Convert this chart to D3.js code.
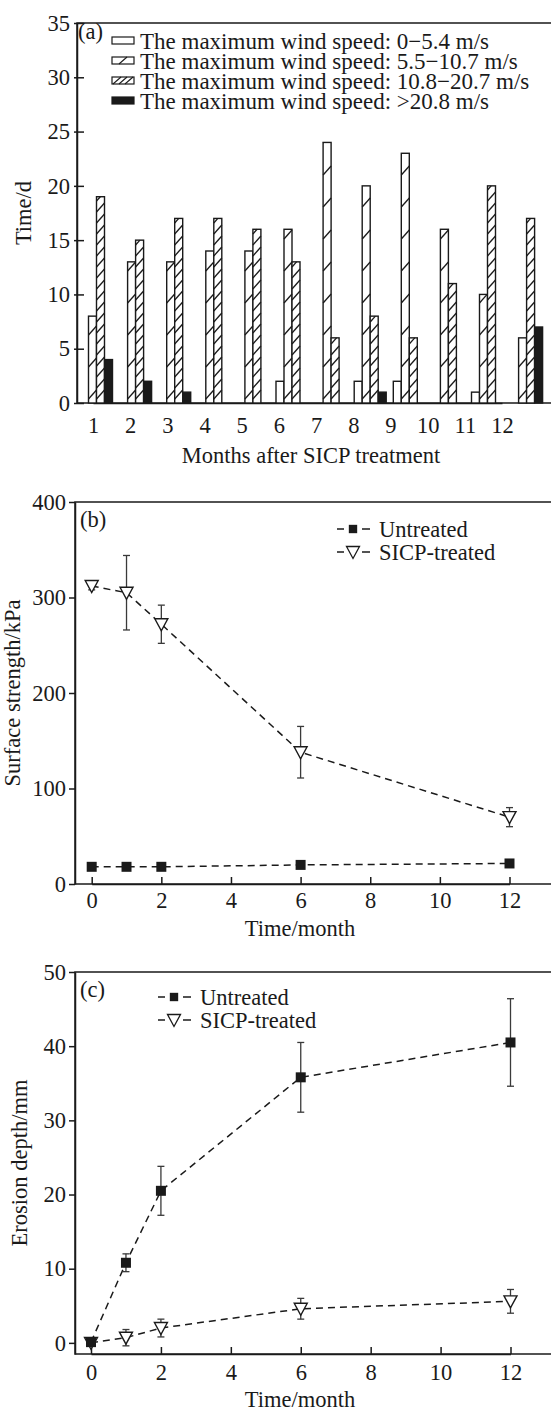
<!DOCTYPE html>
<html>
<head>
<meta charset="utf-8">
<script src="https://cdn.jsdelivr.net/npm/d3@7"></script>
<style>
  body { margin: 0; background: #fff; }
  svg text { font-family: "Liberation Serif", "Times New Roman", serif; fill: #1a1a1a; }
</style>
</head>
<body>
<svg id="chart" width="551" height="1414"></svg>
<script>
// panel (a): days per month in each wind class
const months = [1, 2, 3, 4, 5, 6, 7, 8, 9, 10, 11, 12];
const calmDays = [0, 0, 0, 0, 0, 2, 0, 2, 2, 0, 1, 0];
const lightDays = [8, 13, 13, 14, 14, 16, 24, 20, 23, 16, 10, 6];
const strongDays = [19, 15, 17, 17, 16, 13, 6, 8, 6, 11, 20, 17];
const galeDays = [4, 2, 1, 0, 0, 0, 0, 1, 0, 0, 0, 7];
const windLabels = [
  "The maximum wind speed: 0\u22125.4 m/s",
  "The maximum wind speed: 5.5\u221210.7 m/s",
  "The maximum wind speed: 10.8\u221220.7 m/s",
  "The maximum wind speed: >20.8 m/s",
];
const dayTicks = [0, 5, 10, 15, 20, 25, 30, 35];

// panels (b) and (c)
const times = [0, 1, 2, 6, 12];
const monthTicks = [0, 2, 4, 6, 8, 10, 12];
const strengthUntreated = [18, 18, 18, 20, 21.5];
const strengthUntreatedErr = [3, 2, 2, 2, 2];
const strengthTreated = [312, 305, 272, 138, 70];
const strengthTreatedErr = [4, 39, 20, 27, 10];
const strengthTicks = [0, 100, 200, 300, 400];
const erosionUntreated = [0.1, 10.8, 20.5, 35.8, 40.5];
const erosionUntreatedErr = [0.5, 1.2, 3.3, 4.7, 5.9];
const erosionTreated = [0, 0.7, 2.0, 4.6, 5.6];
const erosionTreatedErr = [0.3, 1.1, 1.2, 1.4, 1.6];
const erosionTicks = [0, 10, 20, 30, 40, 50];
const seriesNames = ["Untreated", "SICP-treated"];

const svg = d3.select("#chart");
const ink = "#1a1a1a";
const fontSize = 22.5;

//---------------- panel (a) ----------------
const aLeft = 77, aRight = 553, aTop = 23, aBottom = 403;
const yA = d3.scaleLinear().domain([0, 35]).range([aBottom, aTop]);
const xGroup = d3.scaleLinear().domain([1, 12]).range([80.5, 510.6]);
const xSub = d3.scaleBand().domain([0, 1, 2, 3]).range([0, 32]);
const xLabA = d3.scaleLinear().domain([1, 12]).range([93, 502]);

const gA = svg.append("g");
gA.append("rect")
  .attr("x", aLeft).attr("y", aTop)
  .attr("width", aRight - aLeft).attr("height", aBottom - aTop)
  .attr("fill", "none").attr("stroke", ink).attr("stroke-width", 1.5);

// y ticks of (a) cross the axis line
gA.append("g")
  .attr("transform", `translate(${aLeft},0)`)
  .call(d3.axisLeft(yA).tickValues(dayTicks).tickSizeInner(3).tickSizeOuter(0).tickPadding(4))
  .call((g) => g.selectAll(".tick line").attr("x1", 7));
gA.append("g")
  .attr("transform", `translate(0,${aBottom})`)
  .call(d3.axisBottom(xLabA).tickValues(months).tickSize(0).tickPadding(14).tickFormat(d3.format("d")));

// flatten bar data
const classes = [calmDays, lightDays, strongDays, galeDays];
const bars = [];
months.forEach((m, i) => {
  classes.forEach((arr, k) => {
    bars.push({ month: m, cls: k, value: arr[i] });
  });
});

const barW = xSub.bandwidth();
const gBars = gA.append("g");
gBars.selectAll("rect")
  .data(bars.filter((d) => d.value > 0))
  .enter()
  .append("rect")
  .attr("x", (d) => xGroup(d.month) + xSub(d.cls))
  .attr("y", (d) => yA(d.value))
  .attr("width", barW)
  .attr("height", (d) => yA(0) - yA(d.value))
  .attr("fill", (d) => (d.cls === 3 ? ink : "#fff"))
  .attr("stroke", ink)
  .attr("stroke-width", 1.4);

// hatch strokes: one every 3 days for the light class, every day for the strong class
const hatchStep = { 1: 32, 2: 11 };
const rise = 9;
const hatch = [];
bars.filter((d) => (d.cls === 1 || d.cls === 2) && d.value > 0).forEach((d) => {
  const x0 = xGroup(d.month) + xSub(d.cls);
  const top = yA(d.value);
  const step = hatchStep[d.cls];
  for (let y = aBottom - 4; y > top; y -= step) {
    let x1 = x0 + barW, y1 = y - rise;
    if (y1 < top) {
      x1 = x0 + (barW * (y - top)) / rise;
      y1 = top;
    }
    hatch.push({ x0: x0, y0: y, x1: x1, y1: y1 });
  }
});
gBars.selectAll("line")
  .data(hatch)
  .enter()
  .append("line")
  .attr("x1", (d) => d.x0).attr("y1", (d) => d.y0)
  .attr("x2", (d) => d.x1).attr("y2", (d) => d.y1)
  .attr("stroke", ink).attr("stroke-width", 1.3);

// legend (a)
const legA = gA.append("g").attr("transform", "translate(112,0)");
const rowY = (i) => 49 + i * 20;
windLabels.forEach((label, i) => {
  const yb = rowY(i);
  legA.append("rect")
    .attr("x", 0).attr("y", yb - 12).attr("width", 22).attr("height", 7)
    .attr("fill", i === 3 ? ink : "#fff").attr("stroke", ink).attr("stroke-width", 1.2);
  const n = i === 1 ? [11] : i === 2 ? [5, 11, 17] : [];
  n.forEach((cx) => {
    legA.append("line")
      .attr("x1", cx - 4).attr("y1", yb - 5).attr("x2", cx + 4).attr("y2", yb - 12)
      .attr("stroke", ink).attr("stroke-width", 1.1);
  });
  legA.append("text").attr("x", 28).attr("y", yb).attr("font-size", 23).text(label);
});
gA.append("text").attr("x", 78).attr("y", 39).attr("font-size", fontSize).text("(a)");

gA.append("text")
  .attr("x", 311).attr("y", 463).attr("text-anchor", "middle")
  .attr("font-size", fontSize).text("Months after SICP treatment");
gA.append("text")
  .attr("transform", `translate(31,${(aTop + aBottom) / 2}) rotate(-90)`)
  .attr("text-anchor", "middle").attr("font-size", fontSize).text("Time/d");

//---------------- helper for line panels ----------------
function linePanel(opt) {
  const g = svg.append("g");
  const x = d3.scaleLinear().domain([0, 12]).range(opt.xRange);
  const y = d3.scaleLinear().domain(opt.yDomain).range([opt.bottom, opt.top]);

  g.append("rect")
    .attr("x", opt.left).attr("y", opt.top)
    .attr("width", 553 - opt.left).attr("height", opt.bottom - opt.top)
    .attr("fill", "none").attr("stroke", ink).attr("stroke-width", 1.5);

  g.append("g")
    .attr("transform", `translate(${opt.left},0)`)
    .call(d3.axisLeft(y).tickValues(opt.yTicks).tickSizeInner(6).tickSizeOuter(0).tickPadding(3));
  g.append("g")
    .attr("transform", `translate(0,${opt.bottom})`)
    .call(d3.axisBottom(x).tickValues(monthTicks).tickSizeInner(-7).tickSizeOuter(0).tickPadding(opt.xPad));

  const line = d3.line().x((d) => x(d.t)).y((d) => y(d.v));
  const sets = opt.series.map((s) => times.map((t, i) => ({ t: t, v: s.values[i], e: s.err[i] })));

  sets.forEach((pts) => {
    g.append("path").datum(pts)
      .attr("d", line).attr("fill", "none")
      .attr("stroke", ink).attr("stroke-width", 1.5).attr("stroke-dasharray", "7,5");
  });

  sets.forEach((pts) => {
    const eb = g.append("g").attr("stroke", "#3a3a3a").attr("stroke-width", 1.3);
    eb.selectAll("line.v").data(pts).enter().append("line")
      .attr("x1", (d) => x(d.t)).attr("x2", (d) => x(d.t))
      .attr("y1", (d) => y(d.v - d.e)).attr("y2", (d) => y(d.v + d.e));
    [1, -1].forEach((sg) => {
      eb.selectAll(null).data(pts).enter().append("line")
        .attr("x1", (d) => x(d.t) - 3.5).attr("x2", (d) => x(d.t) + 3.5)
        .attr("y1", (d) => y(d.v + sg * d.e)).attr("y2", (d) => y(d.v + sg * d.e));
    });
  });

  // markers: filled squares for untreated, open down-triangles for treated
  const sq = d3.symbol().type(d3.symbolSquare).size(100);
  const tri = (cx, cy) => `M${cx - 6.5},${cy - 5.5}L${cx + 6.5},${cy - 5.5}L${cx},${cy + 6.5}Z`;
  g.selectAll("path.tri").data(sets[1]).enter().append("path")
    .attr("d", (d) => tri(x(d.t), y(d.v)))
    .attr("fill", "#fff").attr("stroke", ink).attr("stroke-width", 1.4);
  g.selectAll("path.sq").data(sets[0]).enter().append("path")
    .attr("transform", (d) => `translate(${x(d.t)},${y(d.v)})`)
    .attr("d", sq).attr("fill", ink);

  // legend
  const lg = g.append("g");
  seriesNames.forEach((name, i) => {
    const cy = opt.legY + i * 23;
    const lx = opt.legX;
    lg.append("line").attr("x1", lx).attr("x2", lx + 7).attr("y1", cy).attr("y2", cy)
      .attr("stroke", ink).attr("stroke-width", 1.5);
    lg.append("line").attr("x1", lx + 25).attr("x2", lx + 33).attr("y1", cy).attr("y2", cy)
      .attr("stroke", ink).attr("stroke-width", 1.5);
    if (i === 0) {
      lg.append("path").attr("transform", `translate(${lx + 16},${cy})`)
        .attr("d", d3.symbol().type(d3.symbolSquare).size(70)).attr("fill", ink);
    } else {
      lg.append("path").attr("d", tri(lx + 16, cy))
        .attr("fill", "#fff").attr("stroke", ink).attr("stroke-width", 1.3);
    }
    lg.append("text").attr("x", lx + 42).attr("y", cy + 8)
      .attr("font-size", fontSize).text(name);
  });

  g.append("text").attr("x", opt.left + 5).attr("y", opt.top + 25)
    .attr("font-size", fontSize).text(opt.tag);
  g.append("text").attr("x", 300).attr("y", opt.xTitleY)
    .attr("text-anchor", "middle").attr("font-size", fontSize).text("Time/month");
  g.append("text")
    .attr("transform", `translate(${opt.yTitleX},${(opt.top + opt.bottom) / 2}) rotate(-90)`)
    .attr("text-anchor", "middle").attr("font-size", fontSize).text(opt.yTitle);
  return g;
}

linePanel({
  left: 75, top: 502, bottom: 884, xRange: [91.7, 509.5],
  yDomain: [0, 400], yTicks: strengthTicks, xPad: 8,
  series: [
    { values: strengthUntreated, err: strengthUntreatedErr },
    { values: strengthTreated, err: strengthTreatedErr },
  ],
  legX: 337, legY: 529, tag: "(b)", xTitleY: 936,
  yTitle: "Surface strength/kPa", yTitleX: 20,
});

linePanel({
  left: 75, top: 972, bottom: 1354, xRange: [91, 510.5],
  yDomain: [-1.5, 50], yTicks: erosionTicks, xPad: 10,
  series: [
    { values: erosionUntreated, err: erosionUntreatedErr },
    { values: erosionTreated, err: erosionTreatedErr },
  ],
  legX: 158, legY: 997, tag: "(c)", xTitleY: 1407,
  yTitle: "Erosion depth/mm", yTitleX: 27,
});

// common axis styling
svg.selectAll(".tick text").attr("font-size", fontSize).attr("fill", ink)
  .attr("font-family", "Liberation Serif, Times New Roman, serif");
svg.selectAll(".domain, .tick line").attr("stroke", ink).attr("stroke-width", 1.5);
</script>
</body>
</html>
